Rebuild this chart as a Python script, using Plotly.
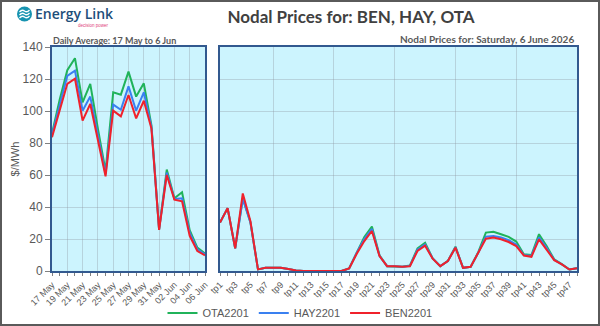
import plotly.graph_objects as go

# ---------------- data ----------------
day_labels = ["17 May", "18 May", "19 May", "20 May", "21 May", "22 May", "23 May",
              "24 May", "25 May", "26 May", "27 May", "28 May", "29 May", "30 May",
              "31 May", "01 Jun", "02 Jun", "03 Jun", "04 Jun", "05 Jun", "06 Jun"]
daily_OTA = [86, 107, 125.5, 133, 105.4, 117, 89, 62.5, 111.7, 110.2, 124.6, 109, 117.3,
             91, 26, 63.4, 45.4, 49.2, 25.5, 14.6, 11]
daily_HAY = [85, 104, 122, 125.2, 100.2, 109, 85, 60.5, 104, 100.8, 115.4, 100.2, 111.7,
             90, 26, 61.5, 45, 45.4, 24, 13.5, 10.3]
daily_BEN = [83.6, 100, 117, 120.2, 94, 104.4, 82, 59.2, 100.2, 96.7, 110, 95.4, 106.4,
             89, 25.7, 60, 44.6, 43.5, 22, 12.5, 9.8]

tp_labels = ["tp%d" % i for i in range(1, 49)]
tp_OTA = [30.3, 39.3, 14.2, 45.5, 30.5, 1, 2, 2, 2, 1.3, 0.3, 0, 0, 0, 0, 0, 0, 1.6,
          12, 21.3, 27.8, 9.8, 3, 3, 2.6, 3.4, 14.2, 17.6, 7.9, 3, 6.3, 15.2, 2, 2.6,
          11.8, 24, 24.5, 23, 21.3, 18.4, 10.5, 10, 23, 15.6, 7.3, 4.3, 0.9, 1.8]
tp_HAY = [30.3, 39.3, 14.2, 45, 30.5, 1, 2, 2, 2, 1.3, 0.3, 0, 0, 0, 0, 0, 0, 1.6,
          11.4, 20, 26.3, 9.5, 3, 3, 2.6, 3.2, 13.3, 16.6, 7.8, 3, 6.2, 14.9, 2, 2.6,
          11.4, 21.5, 21.8, 21, 19.2, 16.5, 10, 9.4, 21, 14.3, 7, 4.2, 0.9, 1.8]
tp_BEN = [30.3, 39.3, 14.2, 48.5, 31.3, 1, 2, 2, 2, 1.3, 0.3, 0, 0, 0, 0, 0, 0, 1.6,
          10.8, 18.7, 25, 9.3, 3, 3, 2.6, 3, 12.5, 15.8, 7.7, 3, 6.2, 14.6, 2, 2.6,
          11, 20.2, 20.9, 19.8, 18.1, 15.6, 9.7, 8.9, 19.8, 13.5, 6.8, 4.1, 0.9, 1.8]

series = [("OTA2201", daily_OTA, tp_OTA, "#20B35A"),
          ("HAY2201", daily_HAY, tp_HAY, "#3A80F0"),
          ("BEN2201", daily_BEN, tp_BEN, "#F0212B")]

# ---------------- layout geometry ----------------
W, H = 600, 326
T, B = 47, 55
PH = H - T - B


def py(Y):  # pixel y -> paper y
    return (H - B - Y) / PH


def px(X):
    return X / W


FRAME = "#32598F"
BG = "#CCF4FE"
GRID = "rgba(140,150,160,0.35)"
TXT = "#595959"

fig = go.Figure()
day_idx = list(range(len(day_labels)))
tp_idx = list(range(1, len(tp_labels) + 1))

for name, d, t, c in series:
    fig.add_trace(go.Scatter(x=day_idx, y=d, mode="lines", name=name,
                             line=dict(color=c, width=2), xaxis="x", yaxis="y",
                             legendgroup=name, showlegend=True,
                             hovertext=day_labels))
for name, d, t, c in series:
    fig.add_trace(go.Scatter(x=tp_idx, y=t, mode="lines", name=name,
                             line=dict(color=c, width=2), xaxis="x2", yaxis="y2",
                             legendgroup=name, showlegend=False,
                             hovertext=tp_labels))

tickfont = dict(family="Liberation Sans, Arial", size=9, color=TXT)

fig.update_layout(
    width=W, height=H,
    margin=dict(l=0, r=0, t=T, b=B, autoexpand=False),
    paper_bgcolor="white",
    plot_bgcolor=BG,
    showlegend=True,
    title=dict(text="<b>Nodal Prices for: BEN, HAY, OTA</b>", x=351 / W, xanchor="center",
               y=1 - 17 / H, yanchor="middle",
               font=dict(family="Lato, Noto Sans, sans-serif", size=17, color="#404040")),
    legend=dict(orientation="h", x=0.5, xanchor="center", y=py(313), yanchor="middle",
                font=dict(family="Liberation Sans, Arial", size=11, color=TXT),
                bgcolor="rgba(0,0,0,0)", itemwidth=30, tracegroupgap=0),
    xaxis=dict(domain=[px(52), px(205)], range=[0, 20],
               tickmode="array", tickvals=day_idx,
               ticktext=[l if i % 2 == 0 else "" for i, l in enumerate(day_labels)],
               tickangle=-45, tickfont=tickfont, ticks="outside", ticklen=3,
               tickcolor="#808080", showgrid=False,
               minor=dict(tickmode="array", tickvals=list(range(0, 21, 2)), showgrid=True,
                          gridcolor=GRID, gridwidth=1, ticks=""),
               showline=True, linecolor=FRAME, linewidth=2, mirror=True, zeroline=False,
               anchor="y", fixedrange=True),
    yaxis=dict(domain=[0, 1], range=[0, 140], dtick=20, showgrid=True, gridcolor=GRID,
               ticks="outside", ticklen=5, tickcolor="#808080",
               tickfont=dict(family="Liberation Sans, Arial", size=12, color=TXT),
               showline=True, linecolor=FRAME, linewidth=2, mirror=True, zeroline=False,
               title=dict(text="$/MWh", standoff=1,
                          font=dict(family="Liberation Sans, Arial", size=11, color=TXT)),
               anchor="x", fixedrange=True),
    xaxis2=dict(domain=[px(220), px(577)], range=[1, 48],
                tickmode="array", tickvals=tp_idx,
                ticktext=[l if i % 2 == 0 else "" for i, l in enumerate(tp_labels)],
                tickangle=-45, tickfont=tickfont, ticks="outside", ticklen=3,
                tickcolor="#808080", showgrid=False,
                minor=dict(tickmode="array", tickvals=list(range(8, 49, 8)), showgrid=True,
                           gridcolor=GRID, gridwidth=1, ticks=""),
                showline=True, linecolor=FRAME, linewidth=2, mirror=True, zeroline=False,
                anchor="y2", fixedrange=True),
    yaxis2=dict(domain=[0, 1], range=[0, 140], dtick=20, showgrid=True, gridcolor=GRID,
                showticklabels=False, ticks="",
                showline=True, linecolor=FRAME, linewidth=2, mirror=True, zeroline=False,
                anchor="x2", fixedrange=True),
)

# subtitles
fig.add_annotation(text="<b>Daily Average: 17 May to 6 Jun</b>", xref="paper", yref="paper",
                   x=px(51), y=py(40), xanchor="left", yanchor="middle", showarrow=False,
                   font=dict(family="Lato, sans-serif", size=9, color=TXT))
fig.add_annotation(text="<b>Nodal Prices for: Saturday, 6 June 2026</b>", xref="paper",
                   yref="paper", x=px(576), y=py(39), xanchor="right", yanchor="middle",
                   showarrow=False, font=dict(family="Lato, sans-serif", size=10, color=TXT))

# logo
fig.add_shape(type="circle", xref="paper", yref="paper",
              x0=px(17), x1=px(32), y0=py(21.5), y1=py(6.5),
              fillcolor="#1793B0", line=dict(width=0), layer="above")
for dy in (-3, 0, 3):
    yc = 14 + dy
    fig.add_shape(type="path", xref="paper", yref="paper", layer="above",
                  path="M %f %f Q %f %f %f %f Q %f %f %f %f" % (
                      px(19.5), py(yc + 1), px(22), py(yc - 2), px(24.5), py(yc),
                      px(27), py(yc + 2), px(29.5), py(yc - 1)),
                  line=dict(color="white", width=1.3))
fig.add_annotation(text="Energy Link", xref="paper", yref="paper", x=px(33), y=py(14),
                   xanchor="left", yanchor="middle", showarrow=False,
                   font=dict(family="Open Sans, sans-serif", size=14, color="#1D4E7A",
                             weight=600))
fig.add_annotation(text="decision power", xref="paper", yref="paper", x=px(111), y=py(25.5),
                   xanchor="right", yanchor="middle", showarrow=False,
                   font=dict(family="Liberation Sans, Arial", size=4.5, color="#E0407A"))

# outer border
fig.add_shape(type="rect", xref="paper", yref="paper",
              x0=px(1), x1=px(599), y0=py(325), y1=py(1),
              line=dict(color="#5A5A5A", width=2), fillcolor="rgba(0,0,0,0)", layer="above")

fig.write_html("out.html")
